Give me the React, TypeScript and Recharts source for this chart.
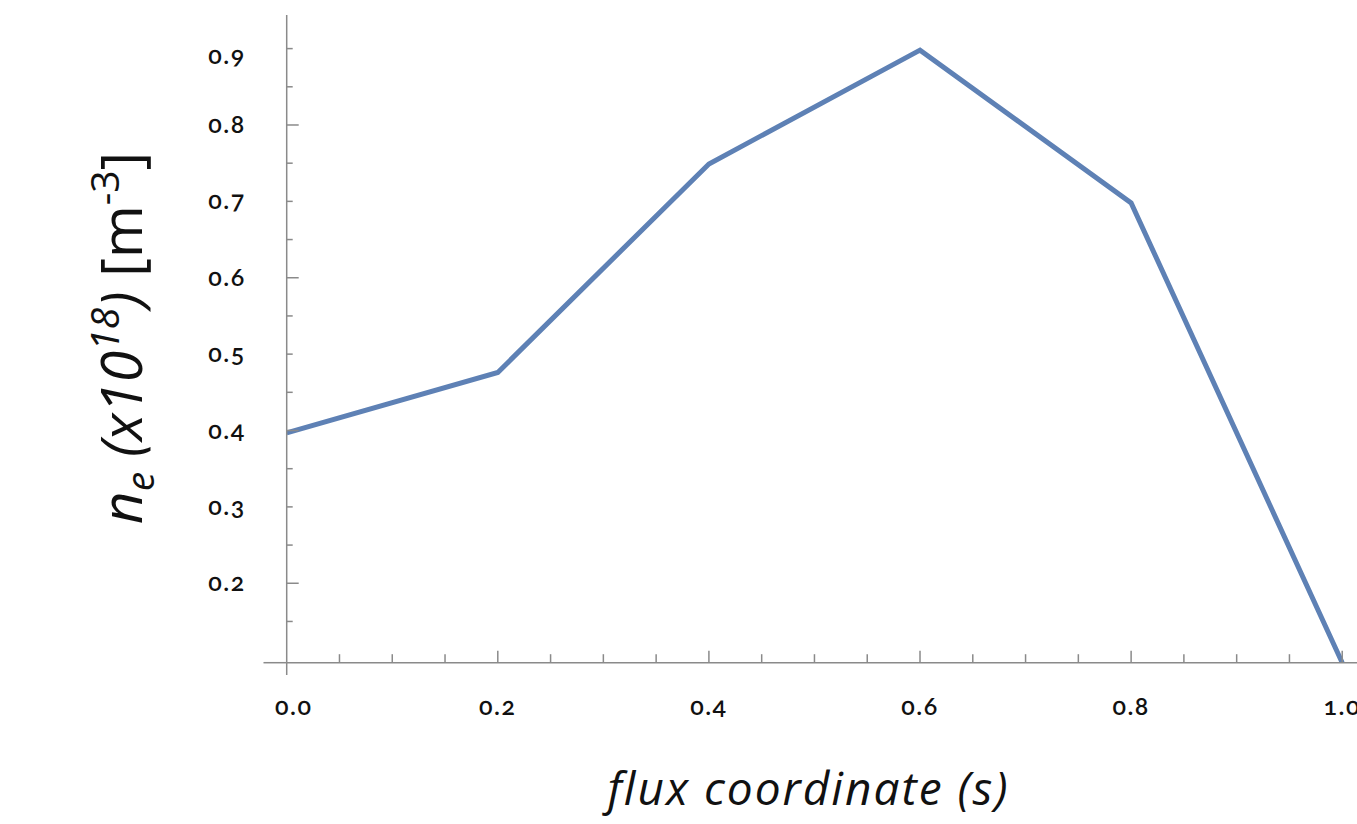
import { LineChart, Line, XAxis, YAxis, ReferenceLine } from 'recharts'

// flux coordinate s and electron density (x10^18 m^-3)
const fluxCoord = [0, 0.2, 0.4, 0.6, 0.8, 1.0]
const density = [0.397, 0.476, 0.749, 0.898, 0.698, 0.096]

const xTicks = [0, 0.05, 0.1, 0.15, 0.2, 0.25, 0.3, 0.35, 0.4, 0.45, 0.5, 0.55, 0.6, 0.65, 0.7, 0.75, 0.8, 0.85, 0.9, 0.95, 1.0]
const xLabelTicks = [0, 0.2, 0.4, 0.6, 0.8, 1.0]
const yTicks = [0.15, 0.2, 0.25, 0.3, 0.35, 0.4, 0.45, 0.5, 0.55, 0.6, 0.65, 0.7, 0.75, 0.8, 0.85, 0.9]
const yLabelTicks = [0.2, 0.3, 0.4, 0.5, 0.6, 0.7, 0.8, 0.9]
const yLongTicks = [0.2, 0.4, 0.6, 0.8]

const data = fluxCoord.map((s, i) => ({ s, ne: density[i] }))

const AXIS = '#8a8a8a'
const LINE = '#5e81b5'
const TICK_FONT = 'Lato, "Open Sans", sans-serif'
const TITLE_FONT = '"Open Sans", "Noto Sans", sans-serif'

const near = (a: number, list: number[]) => list.some((v) => Math.abs(v - a) < 1e-6)

function XTick(props: any) {
  const { x, y, payload } = props
  const v = payload.value as number
  const long = near(v, xLabelTicks)
  return (
    <g>
      {v !== 0 && (
        <line x1={x} x2={x} y1={y} y2={y - (long ? 12 : 8.5)} stroke={AXIS} strokeWidth={1.5} />
      )}
      {long && (
        <text
          x={x + (v === 0 ? 7 : 0)}
          y={y + 52}
          textAnchor="middle"
          fontFamily={TICK_FONT}
          fontSize={25}
          fontWeight={600}
          letterSpacing={1.5}
          fill="#111"
          style={{ fontVariantNumeric: 'oldstyle-nums' }}
        >
          {v.toFixed(1)}
        </text>
      )}
    </g>
  )
}

function YTick(props: any) {
  const { x, y, payload } = props
  const v = payload.value as number
  const long = near(v, yLongTicks)
  const labelled = near(v, yLabelTicks)
  return (
    <g>
      <line x1={x} x2={x + (long ? 12 : 6)} y1={y} y2={y} stroke={AXIS} strokeWidth={1.5} />
      {labelled && (
        <text
          x={x - 41}
          y={y + 8 + (Math.abs(v - 0.9) < 1e-6 ? 7 : 0)}
          textAnchor="end"
          fontFamily={TICK_FONT}
          fontSize={25}
          fontWeight={600}
          letterSpacing={1.5}
          fill="#111"
          style={{ fontVariantNumeric: 'oldstyle-nums' }}
        >
          {v.toFixed(1)}
        </text>
      )}
    </g>
  )
}

export default function App() {
  return (
    <div style={{ width: 1357, height: 824, background: '#fff' }}>
      <style>{'body{margin:0}'}</style>
      <LineChart width={1357} height={824} data={data} margin={{ top: 15, right: 0, bottom: 101.3, left: 226.7 }}>
        <XAxis
          dataKey="s"
          type="number"
          domain={[0, 1.014]}
          allowDataOverflow
          ticks={xTicks}
          interval={0}
          height={60}
          tickSize={0}
          tickMargin={0}
          tickLine={false}
          axisLine={{ stroke: AXIS, strokeWidth: 1.5 }}
          tick={<XTick />}
        />
        <YAxis
          type="number"
          domain={[0.096, 0.944]}
          allowDataOverflow
          ticks={yTicks}
          interval={0}
          width={60}
          tickSize={0}
          tickMargin={0}
          tickLine={false}
          axisLine={{ stroke: AXIS, strokeWidth: 1.5 }}
          tick={<YTick />}
        />
        <ReferenceLine
          segment={[{ x: -0.022, y: 0.096 }, { x: 0, y: 0.096 }]}
          stroke={AXIS}
          strokeWidth={1.5}
          ifOverflow="visible"
        />
        <ReferenceLine
          segment={[{ x: 0, y: 0.096 }, { x: 0, y: 0.0799 }]}
          stroke={AXIS}
          strokeWidth={1.5}
          ifOverflow="visible"
        />
        <Line
          type="linear"
          dataKey="ne"
          stroke={LINE}
          strokeWidth={5}
          dot={false}
          isAnimationActive={false}
        />
        <text
          x={808.5}
          y={805}
          textAnchor="middle"
          fontFamily={TITLE_FONT}
          fontStyle="italic"
          fontSize={46}
          letterSpacing={2}
          fill="#111"
        >
          flux coordinate (s)
        </text>
        <text
          transform="rotate(-90)"
          x={-338}
          y={142}
          textAnchor="middle"
          fontFamily={TITLE_FONT}
          fontSize={57}
          fill="#111"
        >
          <tspan fontStyle="italic">n</tspan>
          <tspan fontStyle="italic" fontSize={39} dy={12}>e</tspan>
          <tspan fontStyle="italic" dy={-12}> (x10</tspan>
          <tspan fontStyle="italic" fontSize={39} dy={-23}>18</tspan>
          <tspan fontStyle="italic" dy={23}>)</tspan>
          <tspan> [m</tspan>
          <tspan fontSize={39} dy={-23}>-3</tspan>
          <tspan dy={23}>]</tspan>
        </text>
      </LineChart>
    </div>
  )
}
